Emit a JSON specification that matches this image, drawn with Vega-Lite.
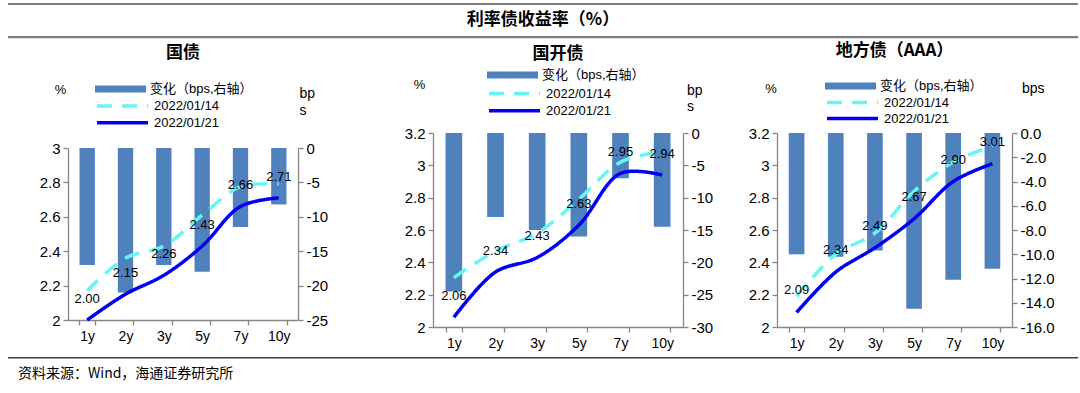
{
  "$schema": "https://vega.github.io/schema/vega-lite/v6.json",
  "padding": {"left": 5, "top": 2, "right": 5, "bottom": 0},
  "background": "white",
  "config": {
    "view": {"stroke": null},
    "font": "Liberation Sans",
    "axis": {"domainColor": "#868686", "tickColor": "#868686", "labelColor": "#000000", "labelFont": "Liberation Sans", "grid": false, "tickSize": 5, "domainWidth": 1.3, "tickWidth": 1.3, "labelOverlap": false, "labelBound": false},
    "legend": {"labelFont": "Liberation Sans, Noto Sans CJK SC", "labelFontSize": 13, "labelColor": "#000000"},
    "title": {"font": "Noto Sans CJK SC", "fontSize": 17, "fontWeight": "bold", "color": "#000000", "anchor": "middle", "frame": "group"}
  },
  "datasets": {
    "gz": [
      {"tenor": "1y", "change": -17, "2022/01/14": 2.17, "2022/01/21": 2.00},
      {"tenor": "2y", "change": -21, "2022/01/14": 2.36, "2022/01/21": 2.15},
      {"tenor": "3y", "change": -17, "2022/01/14": 2.43, "2022/01/21": 2.26},
      {"tenor": "5y", "change": -18, "2022/01/14": 2.61, "2022/01/21": 2.43},
      {"tenor": "7y", "change": -11.5, "2022/01/14": 2.775, "2022/01/21": 2.66},
      {"tenor": "10y", "change": -8.2, "2022/01/14": 2.79, "2022/01/21": 2.71}
    ],
    "gkz": [
      {"tenor": "1y", "change": -24.5, "2022/01/14": 2.305, "2022/01/21": 2.06},
      {"tenor": "2y", "change": -13, "2022/01/14": 2.47, "2022/01/21": 2.34},
      {"tenor": "3y", "change": -15, "2022/01/14": 2.58, "2022/01/21": 2.43},
      {"tenor": "5y", "change": -16, "2022/01/14": 2.79, "2022/01/21": 2.63},
      {"tenor": "7y", "change": -7, "2022/01/14": 3.02, "2022/01/21": 2.95},
      {"tenor": "10y", "change": -14.5, "2022/01/14": 3.085, "2022/01/21": 2.94}
    ],
    "dfz": [
      {"tenor": "1y", "change": -10, "2022/01/14": 2.19, "2022/01/21": 2.09},
      {"tenor": "2y", "change": -10.2, "2022/01/14": 2.45, "2022/01/21": 2.34},
      {"tenor": "3y", "change": -9.7, "2022/01/14": 2.58, "2022/01/21": 2.49},
      {"tenor": "5y", "change": -14.5, "2022/01/14": 2.84, "2022/01/21": 2.67},
      {"tenor": "7y", "change": -12.1, "2022/01/14": 3.02, "2022/01/21": 2.90},
      {"tenor": "10y", "change": -11.2, "2022/01/14": 3.12, "2022/01/21": 3.01}
    ]
  },
  "spacing": 0,
  "vconcat": [
    {
      "width": 1070,
      "height": 39,
      "data": {"values": [{"t": "利率债收益率（%）"}]},
      "layer": [
        {"mark": {"type": "rule", "color": "#808080", "strokeWidth": 2.2},
         "encoding": {"y": {"datum": 1, "type": "quantitative", "scale": {"domain": [0, 39], "reverse": true}, "axis": null}}},
        {"mark": {"type": "rule", "color": "#808080", "strokeWidth": 2.2},
         "encoding": {"y": {"datum": 35, "type": "quantitative"}}},
        {"mark": {"type": "text", "font": "Noto Sans CJK SC", "fontWeight": "bold", "fontSize": 17, "color": "#000000"},
         "encoding": {"text": {"field": "t"}, "y": {"datum": 17, "type": "quantitative"}}}
      ]
    },
    {
      "spacing": 27,
      "resolve": {
        "scale": {"fill": "independent", "stroke": "independent", "strokeDash": "independent"},
        "legend": {"fill": "independent", "stroke": "independent", "strokeDash": "independent"}
      },
      "hconcat": [
        {
          "width": 1,
          "height": 1,
          "data": {"values": [{}]},
          "mark": {"type": "point", "opacity": 0},
          "encoding": {}
        },
        {
          "spacing": 35,
          "resolve": {
            "scale": {"fill": "independent", "stroke": "independent", "strokeDash": "independent"},
            "legend": {"fill": "independent", "stroke": "independent", "strokeDash": "independent"}
          },
          "hconcat": [
            {
              "width": 230,
              "height": 187,
              "title": {"text": "国债", "offset": 20},
              "data": {"name": "gz"},
              "encoding": {
                "x": {"field": "tenor", "type": "nominal", "sort": ["1y", "2y", "3y", "5y", "7y", "10y"],
                      "scale": {"paddingInner": 0.6, "paddingOuter": 0.3},
                      "axis": {"title": null, "tickBand": "extent", "labelAngle": 0, "labelFontSize": 14, "labelPadding": 4}}
              },
              "layer": [
                {
                  "mark": {"type": "bar", "color": "#4F81BD"},
                  "encoding": {
                    "y": {"field": "change", "type": "quantitative",
                          "scale": {"domain": [-25, 0], "range": [187, 15]},
                          "axis": {"orient": "right", "values": [0, -5, -10, -15, -20, -25], "tickCount": 12, "labelExpr": "'' + datum.value", "labelFontSize": 15, "labelPadding": 3,
                                   "title": ["bp", "s"], "titleAngle": 0, "titleX": 1, "titleY": -47, "titleAlign": "left", "titleBaseline": "top", "titleLineHeight": 17, "titleFontSize": 14, "titleFontWeight": "normal", "titleColor": "#000000"}},
                    "fill": {"datum": "变化（bps,右轴）", "scale": {"range": ["#4F81BD"]},
                             "legend": {"orient": "none", "legendX": 27, "legendY": -51, "title": null, "symbolType": "M-1,-0.14H1V0.14H-1Z", "symbolSize": 2601, "symbolStrokeWidth": 0, "clipHeight": 14}}
                  }
                },
                {
                  "layer": [
                    {
                      "transform": [{"fold": ["2022/01/14", "2022/01/21"], "as": ["series", "value"]}],
                      "mark": {"type": "line", "interpolate": "catmull-rom", "strokeWidth": 3.5},
                      "encoding": {
                        "y": {"field": "value", "type": "quantitative",
                              "scale": {"domain": [2, 3], "range": [187, 15]},
                              "axis": {"orient": "left", "values": [2, 2.2, 2.4, 2.6, 2.8, 3], "tickCount": 12, "labelExpr": "'' + datum.value", "labelOverlap": false, "labelFontSize": 15, "labelPadding": 3,
                                       "title": "%", "titleAngle": 0, "titleX": -8, "titleY": -44, "titleAlign": "center", "titleBaseline": "middle", "titleFontSize": 13, "titleFontWeight": "normal", "titleColor": "#000000"}},
                        "stroke": {"field": "series", "type": "nominal", "scale": {"domain": ["2022/01/14", "2022/01/21"], "range": ["#66F5F5", "#0000F0"]},
                                   "legend": {"orient": "none", "legendX": 27, "legendY": -34, "title": null, "symbolType": "stroke", "symbolSize": 2601, "symbolStrokeWidth": 3.5, "clipHeight": 14, "rowPadding": 2.7}},
                        "strokeDash": {"field": "series", "type": "nominal", "scale": {"domain": ["2022/01/14", "2022/01/21"], "range": [[15, 10], [1, 0]]},
                                       "legend": {"orient": "none", "legendX": 27, "legendY": -34, "title": null, "symbolType": "stroke", "symbolSize": 2601, "symbolStrokeWidth": 3.5, "clipHeight": 14, "rowPadding": 2.7}}
                      }
                    },
                    {
                      "mark": {"type": "text", "dy": -21, "fontSize": 13, "color": "#000000"},
                      "encoding": {
                        "y": {"field": "2022/01/21", "type": "quantitative", "axis": {"tickCount": 12}},
                        "text": {"field": "2022/01/21", "type": "quantitative", "format": ".2f"}
                      }
                    }
                  ]
                }
              ],
              "resolve": {"scale": {"y": "independent"}}
            },
            {
              "width": 2,
              "height": 1,
              "data": {"values": [{}]},
              "mark": {"type": "point", "opacity": 0},
              "encoding": {}
            },
            {
              "width": 250,
              "height": 194,
              "title": {"text": "国开债", "offset": 5},
              "data": {"name": "gkz"},
              "encoding": {
                "x": {"field": "tenor", "type": "nominal", "sort": ["1y", "2y", "3y", "5y", "7y", "10y"],
                      "scale": {"paddingInner": 0.6, "paddingOuter": 0.3},
                      "axis": {"title": null, "tickBand": "extent", "labelAngle": 0, "labelFontSize": 14, "labelPadding": 4}}
              },
              "layer": [
                {
                  "mark": {"type": "bar", "color": "#4F81BD"},
                  "encoding": {
                    "y": {"field": "change", "type": "quantitative",
                          "scale": {"domain": [-30, 0]},
                          "axis": {"orient": "right", "values": [0, -5, -10, -15, -20, -25, -30], "tickCount": 12, "labelExpr": "'' + datum.value", "labelFontSize": 15, "labelPadding": 3,
                                   "title": ["bp", "s"], "titleAngle": 0, "titleX": 3.5, "titleY": -50, "titleAlign": "left", "titleBaseline": "top", "titleLineHeight": 16, "titleFontSize": 14, "titleFontWeight": "normal", "titleColor": "#000000"}},
                    "fill": {"datum": "变化（bps,右轴）", "scale": {"range": ["#4F81BD"]},
                             "legend": {"orient": "none", "legendX": 54, "legendY": -65, "title": null, "symbolType": "M-1,-0.14H1V0.14H-1Z", "symbolSize": 2601, "symbolStrokeWidth": 0, "clipHeight": 14}}
                  }
                },
                {
                  "layer": [
                    {
                      "transform": [{"fold": ["2022/01/14", "2022/01/21"], "as": ["series", "value"]}],
                      "mark": {"type": "line", "interpolate": "catmull-rom", "strokeWidth": 3.5},
                      "encoding": {
                        "y": {"field": "value", "type": "quantitative",
                              "scale": {"domain": [2, 3.2]},
                              "axis": {"orient": "left", "values": [2, 2.2, 2.4, 2.6, 2.8, 3, 3.2], "tickCount": 12, "labelExpr": "'' + datum.value", "labelOverlap": false, "labelFontSize": 15, "labelPadding": 3,
                                       "title": "%", "titleAngle": 0, "titleX": -14, "titleY": -49, "titleAlign": "center", "titleBaseline": "middle", "titleFontSize": 13, "titleFontWeight": "normal", "titleColor": "#000000"}},
                        "stroke": {"field": "series", "type": "nominal", "scale": {"domain": ["2022/01/14", "2022/01/21"], "range": ["#66F5F5", "#0000F0"]},
                                   "legend": {"orient": "none", "legendX": 54, "legendY": -46.5, "title": null, "symbolType": "stroke", "symbolSize": 2601, "symbolStrokeWidth": 3.5, "clipHeight": 14, "rowPadding": 3.3}},
                        "strokeDash": {"field": "series", "type": "nominal", "scale": {"domain": ["2022/01/14", "2022/01/21"], "range": [[15, 10], [1, 0]]},
                                       "legend": {"orient": "none", "legendX": 54, "legendY": -46.5, "title": null, "symbolType": "stroke", "symbolSize": 2601, "symbolStrokeWidth": 3.5, "clipHeight": 14, "rowPadding": 3.3}}
                      }
                    },
                    {
                      "mark": {"type": "text", "dy": -21, "fontSize": 13, "color": "#000000"},
                      "encoding": {
                        "y": {"field": "2022/01/21", "type": "quantitative", "axis": {"tickCount": 12}},
                        "text": {"field": "2022/01/21", "type": "quantitative", "format": ".2f"}
                      }
                    }
                  ]
                }
              ],
              "resolve": {"scale": {"y": "independent"}}
            },
            {
              "width": 235,
              "height": 194,
              "title": {"text": "地方债（AAA）", "offset": 19},
              "data": {"name": "dfz"},
              "encoding": {
                "x": {"field": "tenor", "type": "nominal", "sort": ["1y", "2y", "3y", "5y", "7y", "10y"],
                      "scale": {"paddingInner": 0.6, "paddingOuter": 0.3},
                      "axis": {"title": null, "tickBand": "extent", "labelAngle": 0, "labelFontSize": 14, "labelPadding": 4}}
              },
              "layer": [
                {
                  "mark": {"type": "bar", "color": "#4F81BD"},
                  "encoding": {
                    "y": {"field": "change", "type": "quantitative",
                          "scale": {"domain": [-16, 0]},
                          "axis": {"orient": "right", "values": [0, -2, -4, -6, -8, -10, -12, -14, -16], "tickCount": 12, "labelExpr": "(datum.value < 0 ? '-' : '') + format(abs(datum.value), '.1f')", "labelFontSize": 15, "labelPadding": 3,
                                   "title": "bps", "titleAngle": 0, "titleX": 9.5, "titleY": -52, "titleAlign": "left", "titleBaseline": "top", "titleFontSize": 14, "titleFontWeight": "normal", "titleColor": "#000000"}},
                    "fill": {"datum": "变化（bps,右轴）", "scale": {"range": ["#4F81BD"]},
                             "legend": {"orient": "none", "legendX": 48, "legendY": -54, "title": null, "symbolType": "M-1,-0.14H1V0.14H-1Z", "symbolSize": 2601, "symbolStrokeWidth": 0, "clipHeight": 14}}
                  }
                },
                {
                  "layer": [
                    {
                      "transform": [{"fold": ["2022/01/14", "2022/01/21"], "as": ["series", "value"]}],
                      "mark": {"type": "line", "interpolate": "catmull-rom", "strokeWidth": 3.5},
                      "encoding": {
                        "y": {"field": "value", "type": "quantitative",
                              "scale": {"domain": [2, 3.2]},
                              "axis": {"orient": "left", "values": [2, 2.2, 2.4, 2.6, 2.8, 3, 3.2], "tickCount": 12, "labelExpr": "'' + datum.value", "labelOverlap": false, "labelFontSize": 15, "labelPadding": 3,
                                       "title": "%", "titleAngle": 0, "titleX": -6.5, "titleY": -45, "titleAlign": "center", "titleBaseline": "middle", "titleFontSize": 13, "titleFontWeight": "normal", "titleColor": "#000000"}},
                        "stroke": {"field": "series", "type": "nominal", "scale": {"domain": ["2022/01/14", "2022/01/21"], "range": ["#66F5F5", "#0000F0"]},
                                   "legend": {"orient": "none", "legendX": 48, "legendY": -37.5, "title": null, "symbolType": "stroke", "symbolSize": 2601, "symbolStrokeWidth": 3.5, "clipHeight": 14, "rowPadding": 2}},
                        "strokeDash": {"field": "series", "type": "nominal", "scale": {"domain": ["2022/01/14", "2022/01/21"], "range": [[15, 10], [1, 0]]},
                                       "legend": {"orient": "none", "legendX": 48, "legendY": -37.5, "title": null, "symbolType": "stroke", "symbolSize": 2601, "symbolStrokeWidth": 3.5, "clipHeight": 14, "rowPadding": 2}}
                      }
                    },
                    {
                      "mark": {"type": "text", "dy": -22, "fontSize": 13, "color": "#000000"},
                      "encoding": {
                        "y": {"field": "2022/01/21", "type": "quantitative", "axis": {"tickCount": 12}},
                        "text": {"field": "2022/01/21", "type": "quantitative", "format": ".2f"}
                      }
                    }
                  ]
                }
              ],
              "resolve": {"scale": {"y": "independent"}}
            }
          ]
        }
      ]
    },
    {
      "width": 1070,
      "height": 44,
      "data": {"values": [{"t": "资料来源：Wind，海通证券研究所"}]},
      "layer": [
        {"mark": {"type": "rule", "color": "#404040", "strokeWidth": 1.5},
         "encoding": {"y": {"datum": 8, "type": "quantitative", "scale": {"domain": [0, 44], "reverse": true}, "axis": null}}},
        {"mark": {"type": "text", "align": "left", "font": "Noto Sans CJK SC", "fontSize": 14, "color": "#000000"},
         "encoding": {"text": {"field": "t"},
                      "x": {"datum": 10, "type": "quantitative", "scale": {"domain": [0, 1070]}, "axis": null},
                      "y": {"datum": 25, "type": "quantitative"}}}
      ]
    }
  ]
}
